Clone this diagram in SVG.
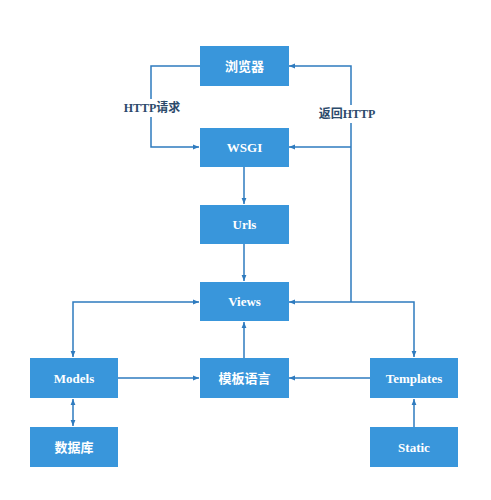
<svg xmlns="http://www.w3.org/2000/svg" width="491" height="500" viewBox="0 0 491 500">
<defs>
<style>
.box{fill:#3996db;}
.t{fill:#ffffff;font-family:"Liberation Serif","Noto Sans CJK SC",serif;font-weight:bold;font-size:13px;text-anchor:middle;dominant-baseline:central;}
.ln{fill:none;stroke:#2e7bbf;stroke-width:1.5;}
.lbl{fill:#2b4a6b;font-family:"Liberation Serif","Noto Sans CJK SC",serif;font-weight:bold;font-size:12px;text-anchor:middle;dominant-baseline:central;}
</style>
<marker id="ah" viewBox="0 0 10 10" refX="10" refY="5" markerWidth="6" markerHeight="6" orient="auto-start-reverse" markerUnits="userSpaceOnUse">
<path d="M0,1 L10,5 L0,9 z" fill="#2e7bbf"/>
</marker>
</defs>
<rect width="491" height="500" fill="#ffffff"/>
<g id="connectors">
<path class="ln" d="M200,66 H151 V147 H199" marker-end="url(#ah)"/>
<path class="ln" d="M351,302 V66 H289" marker-end="url(#ah)"/>
<path class="ln" d="M351,147 H289" marker-end="url(#ah)"/>
<path class="ln" d="M244,167 V204" marker-end="url(#ah)"/>
<path class="ln" d="M244,244 V281" marker-end="url(#ah)"/>
<path class="ln" d="M199,302 H73 V357" marker-start="url(#ah)" marker-end="url(#ah)"/>
<path class="ln" d="M289,302 H414 V357" marker-start="url(#ah)" marker-end="url(#ah)"/>
<path class="ln" d="M244,358 V322" marker-end="url(#ah)"/>
<path class="ln" d="M118,378 H199" marker-end="url(#ah)"/>
<path class="ln" d="M370,378 H289" marker-end="url(#ah)"/>
<path class="ln" d="M73,399 V426" marker-start="url(#ah)" marker-end="url(#ah)"/>
<path class="ln" d="M414,427 V399" marker-end="url(#ah)"/>
<rect x="124" y="99" width="56" height="18" fill="#ffffff"/>
<text class="lbl" x="152" y="108">HTTP请求</text>
<rect x="318" y="105" width="58" height="18" fill="#ffffff"/>
<text class="lbl" x="347" y="114">返回HTTP</text>
</g>
<g id="browser"><rect class="box" x="200" y="46" width="89" height="40"/><text class="t" x="244.5" y="66">浏览器</text></g>
<g id="wsgi"><rect class="box" x="200" y="128" width="89" height="39"/><text class="t" x="244.5" y="147.5">WSGI</text></g>
<g id="urls"><rect class="box" x="200" y="205" width="89" height="39"/><text class="t" x="244.5" y="224.5">Urls</text></g>
<g id="views"><rect class="box" x="200" y="282" width="89" height="39"/><text class="t" x="244.5" y="301.5">Views</text></g>
<g id="models"><rect class="box" x="30" y="358" width="88" height="40"/><text class="t" x="74" y="378">Models</text></g>
<g id="template-lang"><rect class="box" x="200" y="358" width="89" height="40"/><text class="t" x="244.5" y="378">模板语言</text></g>
<g id="templates"><rect class="box" x="370" y="358" width="88" height="40"/><text class="t" x="414" y="378">Templates</text></g>
<g id="database"><rect class="box" x="30" y="427" width="88" height="40"/><text class="t" x="74" y="447">数据库</text></g>
<g id="static"><rect class="box" x="370" y="427" width="88" height="40"/><text class="t" x="414" y="447">Static</text></g>
</svg>
